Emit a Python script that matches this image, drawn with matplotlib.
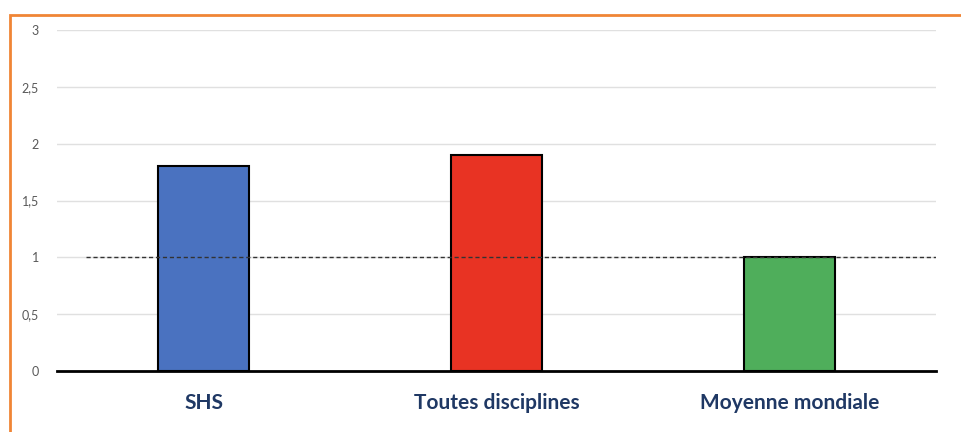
import matplotlib
matplotlib.use('Agg')
import matplotlib.pyplot as plt
from matplotlib.patches import Rectangle

categories = ['SHS', 'Toutes disciplines', 'Moyenne mondiale']
values = [1.8, 1.9, 1.0]
colors = ['#4A72C0', '#E83323', '#4FAE5B']
ref_level = 1
yticks = [0, 0.5, 1, 1.5, 2, 2.5, 3]
ytick_labels = ['0', '0,5', '1', '1,5', '2', '2,5', '3']

fig = plt.figure(figsize=(9.62, 4.32), dpi=100)
ax = fig.add_axes([57 / 962, 1 - 371 / 432, 879 / 962, 341 / 432])

x = range(len(categories))
ax.bar(x, values, width=0.31, color=colors, edgecolor='black', linewidth=1.5, zorder=3)
ax.plot([-0.4, 2.5], [ref_level, ref_level], color='#333333', linestyle=(0, (3, 2)),
        linewidth=1, zorder=4)

ax.set_xlim(-0.5, 2.5)
ax.set_ylim(0, 3)
ax.set_yticks(yticks)
ax.set_yticklabels(ytick_labels, fontsize=9, color='#595959', family='Lato')
ax.set_xticks(list(x))
ax.set_xticklabels(categories, fontsize=15, fontweight='bold', color='#1F3864',
                   family='Lato')
ax.tick_params(axis='both', length=0)
ax.tick_params(axis='x', pad=16)
ax.tick_params(axis='y', pad=13)
ax.grid(axis='y', color='#E0E0E0', linewidth=1, zorder=0)
for s in ['top', 'right', 'left']:
    ax.spines[s].set_visible(False)
ax.spines['bottom'].set_linewidth(2)
ax.spines['bottom'].set_zorder(5)

# cadre orange
fig.patches.append(Rectangle((10 / 962, -0.05), 1.1, 1 - 15 / 432 + 0.05,
                             transform=fig.transFigure, fill=False,
                             edgecolor='#F08535', linewidth=2, clip_on=False))

fig.savefig('out.png', dpi=100, facecolor='white')
